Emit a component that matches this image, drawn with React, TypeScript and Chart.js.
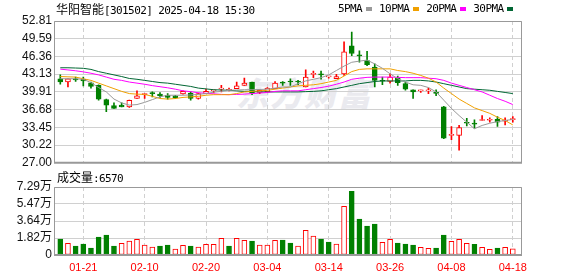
import React, { useEffect, useRef } from 'react';
import { Chart, registerables } from 'chart.js';

Chart.register(...registerables);

const stockName = '华阳智能';
const stockCode = '301502';
const timestamp = '2025-04-18 15:30';
const lastVolume = 6570;

const dates = [
  '01-16','01-17','01-20','01-21','01-22','01-23','01-24','01-27','02-05','02-06',
  '02-07','02-10','02-11','02-12','02-13','02-14','02-17','02-18','02-19','02-20',
  '02-21','02-24','02-25','02-26','02-27','02-28','03-03','03-04','03-05','03-06',
  '03-07','03-10','03-11','03-12','03-13','03-14','03-17','03-18','03-19','03-20',
  '03-21','03-24','03-25','03-26','03-27','03-28','03-31','04-01','04-02','04-03',
  '04-07','04-08','04-09','04-10','04-11','04-14','04-15','04-16','04-17','04-18',
];
const xTickLabels = ['01-21','02-10','02-20','03-04','03-14','03-26','04-08','04-18'];

const open = [
  42.29,41.7,42.29,42.2,41.57,41.1,38.5,37.4,37.5,37.15,
  38.7,39.4,39.7,39.5,39.3,39.2,39.55,39.7,38.7,39.6,
  40.1,40.4,40.2,40.5,41.1,41.7,39.8,39.9,40.5,41.55,
  41.75,41.75,40.8,43.1,43.1,42.65,42.3,43.2,48.3,46.6,
  45.6,44.4,41.95,41.8,42.4,41.4,40.3,40.1,40.1,39.75,
  37.2,32.0,32.0,34.3,34.15,34.7,34.75,34.9,34.6,34.85,
];
const high = [
  43.0,42.3,42.6,42.6,41.7,41.2,38.6,37.9,37.9,38.4,
  40.1,39.6,39.9,39.8,39.6,39.3,40.1,39.9,39.7,40.4,
  40.25,41.1,40.6,41.7,42.4,41.7,40.3,40.7,41.8,41.8,
  42.3,42.0,43.9,43.7,43.7,42.75,43.1,49.0,50.8,47.4,
  47.3,45.0,42.6,43.2,42.8,41.7,40.3,40.25,40.6,40.3,
  37.3,33.6,33.8,35.1,34.8,35.6,35.2,35.4,35.2,35.4,
];
const low = [
  41.3,40.8,41.8,41.0,40.6,38.4,36.3,36.9,37.15,37.1,
  38.7,38.7,39.0,38.9,38.6,38.7,39.5,38.4,38.6,39.6,
  39.7,39.9,40.1,40.5,41.1,39.4,39.6,39.9,40.5,41.1,
  41.1,41.2,40.8,42.5,42.2,42.4,42.3,42.9,46.5,45.3,
  44.7,40.8,41.2,41.5,41.1,40.2,38.7,39.8,39.6,39.2,
  31.4,31.2,29.3,33.7,33.3,34.7,34.4,33.6,33.9,34.4,
];
const close = [
  41.7,42.29,42.1,41.9,40.9,38.6,37.5,36.9,37.15,38.35,
  39.2,39.55,39.6,39.2,38.9,38.85,40.0,38.7,39.6,40.0,
  40.2,40.55,40.35,41.0,41.5,39.7,40.2,40.6,41.5,41.5,
  41.7,41.7,42.6,43.2,43.0,42.7,42.7,47.2,46.9,46.45,
  44.85,42.0,41.85,42.6,41.6,40.4,39.9,40.25,40.2,39.65,
  31.5,32.15,33.4,34.2,34.05,34.8,34.85,34.4,34.75,34.95,
];

const ma5 = [
  42.3,42.3,42.3,42.2,41.6,40.7,39.9,38.6,37.9,37.5,
  37.6,38.0,38.5,39.0,39.3,39.3,39.3,39.35,39.45,39.6,
  39.85,40.0,40.2,40.25,40.3,40.3,40.35,40.4,40.6,40.8,
  40.8,41.4,41.9,42.2,42.5,43.0,43.8,44.6,45.3,45.5,
  45.7,45.0,44.2,43.2,42.3,41.7,41.2,41.1,40.7,39.9,
  38.4,36.9,35.6,34.4,33.2,33.8,34.2,34.5,34.7,34.9,
];
const ma10 = [
  42.7,42.65,42.6,42.3,42.0,41.5,41.0,40.5,40.0,39.6,
  39.5,39.45,39.1,38.7,38.6,38.7,38.9,39.0,39.1,39.3,
  39.4,39.4,39.4,39.6,39.9,40.0,40.1,40.2,40.4,40.6,
  40.8,41.0,41.1,41.2,41.4,41.7,42.0,42.8,43.6,44.0,
  44.1,44.1,44.1,44.1,43.8,43.6,43.3,42.9,42.4,41.7,
  40.6,39.6,38.6,37.8,37.0,36.5,36.0,35.3,34.7,33.9,
];
const ma20 = [
  44.05,43.9,43.75,43.55,43.3,43.0,42.6,42.2,42.0,41.7,
  41.5,41.3,41.05,40.85,40.65,40.4,40.1,39.95,39.75,39.65,
  39.55,39.45,39.4,39.45,39.5,39.6,39.7,39.8,40.0,40.1,
  40.1,40.1,40.3,40.5,40.7,40.95,41.3,41.7,42.2,42.4,
  42.55,42.6,42.6,42.6,42.55,42.5,42.5,42.5,42.4,42.3,
  42.0,41.5,41.1,40.7,40.3,39.9,39.3,38.7,38.2,37.6,
];
const ma30 = [
  44.3,44.3,44.25,44.2,44.0,43.6,43.3,43.0,42.7,42.35,
  42.2,42.0,41.8,41.6,41.5,41.3,41.1,40.9,40.6,40.45,
  40.3,40.25,40.2,40.1,40.0,40.0,39.9,39.9,39.9,39.9,
  39.9,39.9,39.95,40.0,40.1,40.3,40.5,40.8,41.1,41.4,
  41.6,41.8,41.9,41.9,41.9,41.9,42.0,42.0,41.9,41.7,
  41.4,41.1,40.8,40.5,40.4,40.3,40.2,40.0,39.8,39.6,
];
const maNames = ['5PMA', '10PMA', '20PMA', '30PMA'];

// 成交量 (万)
const volume = [
  1.71,1.25,0.96,1.17,0.75,1.92,2.13,0.96,1.25,1.49,
  1.67,1.07,0.85,0.96,1.07,0.64,1.03,0.96,0.85,1.14,
  1.14,1.78,0.96,1.78,1.57,1.49,1.07,1.07,1.57,1.60,
  1.28,0.96,2.64,2.03,1.71,1.39,1.17,5.23,6.83,3.84,
  3.10,3.31,1.36,1.67,1.28,1.17,1.07,0.82,0.71,0.75,
  2.13,1.46,1.67,1.25,1.14,0.82,0.61,0.75,0.82,0.657,
];
// 1 = 红 (涨), 0 = 绿 (跌)
const volumeUp = [
  0,1,0,0,0,0,0,0,1,1,
  1,1,1,0,0,1,1,0,1,1,
  1,1,0,1,1,0,1,1,1,0,
  0,1,1,1,0,0,1,1,0,0,
  0,0,1,1,0,0,0,1,1,0,
  0,1,1,1,0,1,1,0,1,1,
];

const priceTickLabels = ['27.00','30.22','33.45','36.68','39.91','43.13','46.36','49.59','52.81'];
const volumeTickLabels = ['0','1.82万','3.64万','5.47万','7.29万'];

const RED = '#ff0000';
const GREEN = '#008000';
const MA_COLORS = ['#999999', '#f0a000', '#ff00ff', '#006633'];
const GRID = '#d0d0d0';
const MONO = "'DejaVu Sans Mono', monospace";
const CJK = "'Noto Sans CJK SC', sans-serif";

export default function App() {
  const priceRef = useRef<HTMLCanvasElement>(null);
  const volRef = useRef<HTMLCanvasElement>(null);

  useEffect(() => {
    const n = dates.length;
    const idx = Array.from({ length: n }, (_, i) => i);
    const candleUp = idx.map((i) => close[i] >= open[i]);
    const tickIdx = xTickLabels.map((d) => dates.indexOf(d));
    const tickFont = { family: "'Liberation Sans', 'Noto Sans CJK SC', sans-serif", size: 12 };

    const boxPlugin = {
      id: 'box',
      afterDraw(chart: any) {
        const { ctx, chartArea: a } = chart;
        ctx.save();
        ctx.strokeStyle = '#999999';
        ctx.lineWidth = 1;
        ctx.beginPath();
        ctx.moveTo(a.left + 0.5, a.bottom);
        ctx.lineTo(a.left + 0.5, a.top + 0.5);
        ctx.lineTo(a.right - 0.5, a.top + 0.5);
        ctx.lineTo(a.right - 0.5, a.bottom);
        ctx.stroke();
        ctx.lineWidth = 2;
        ctx.beginPath();
        ctx.moveTo(a.left, a.bottom);
        ctx.lineTo(a.right, a.bottom);
        ctx.stroke();
        ctx.restore();
      },
    };

    const xAxis = (labels: boolean) => ({
      type: 'linear',
      min: -0.82,
      max: 60.2,
      offset: false,
      afterBuildTicks: (s: any) => { s.ticks = tickIdx.map((v) => ({ value: v })); },
      afterFit: (s: any) => { s.height = labels ? 21 : 0; },
      ticks: {
        display: labels,
        autoSkip: false,
        maxRotation: 0,
        color: RED,
        padding: 6,
        font: { family: "'Liberation Sans', sans-serif", size: 11 },
        callback: (v: any) => dates[Math.round(v)],
      },
      grid: { color: GRID, drawTicks: false, offset: false },
      border: { display: false, dash: [4, 3] },
    });

    const yAxis = (labels: string[], min: number, max: number) => ({
      type: 'linear',
      position: 'left',
      min,
      max,
      afterBuildTicks: (s: any) => { s.ticks = labels.map((l) => ({ value: parseFloat(l) })); },
      afterFit: (s: any) => { s.width = 54; },
      ticks: { color: '#111', font: tickFont, padding: 2, autoSkip: false, callback: (_v: any, i: number) => labels[i] },
      grid: { color: GRID, drawTicks: false },
      border: { display: false },
    });

    const mas = [ma5, ma10, ma20, ma30];

    const priceChart = new Chart(priceRef.current!, {
      type: 'bar',
      data: {
        datasets: [
          ...mas.map((m, k) => ({
            type: 'line' as const,
            label: maNames[k],
            data: m.map((v, i) => ({ x: i, y: v })),
            borderColor: MA_COLORS[k],
            borderWidth: 1,
            pointRadius: 0,
            tension: 0,
            order: 0,
          })),
          {
            type: 'bar' as const,
            label: 'body',
            data: idx.map((i) => ({ x: i, y: [Math.min(open[i], close[i]), Math.max(open[i], close[i])] })),
            backgroundColor: idx.map((i) => (candleUp[i] ? '#ffffff' : GREEN)),
            borderColor: idx.map((i) => (candleUp[i] ? RED : GREEN)),
            borderWidth: 1,
            borderSkipped: false,
            barThickness: 5,
            minBarLength: 1,
            grouped: false,
            order: 1,
          },
          {
            type: 'bar' as const,
            label: 'wick',
            data: idx.map((i) => ({ x: i, y: [low[i], high[i]] })),
            backgroundColor: idx.map((i) => (candleUp[i] ? RED : GREEN)),
            barThickness: 1,
            grouped: false,
            order: 2,
          },
        ] as any,
      },
      options: {
        responsive: false,
        animation: false,
        events: [],
        layout: { autoPadding: false, padding: { top: 21, bottom: 7, left: 0, right: 56 } },
        plugins: { legend: { display: false }, tooltip: { enabled: false } },
        scales: {
          x: xAxis(false) as any,
          y: yAxis(priceTickLabels, 27.0, 52.81) as any,
        },
      },
      plugins: [boxPlugin],
    });

    const volChart = new Chart(volRef.current!, {
      type: 'bar',
      data: {
        datasets: [
          {
            label: '成交量',
            data: idx.map((i) => ({ x: i, y: volume[i] })) as any,
            backgroundColor: idx.map((i) => (volumeUp[i] ? '#ffffff' : GREEN)),
            borderColor: idx.map((i) => (volumeUp[i] ? RED : GREEN)),
            borderWidth: 1,
            borderSkipped: false,
            barThickness: 5,
            grouped: false,
          },
        ],
      },
      options: {
        responsive: false,
        animation: false,
        events: [],
        layout: { autoPadding: false, padding: { top: 15, bottom: 0, left: 0, right: 56 } },
        plugins: { legend: { display: false }, tooltip: { enabled: false } },
        scales: {
          x: xAxis(true) as any,
          y: yAxis(volumeTickLabels, 0, 7.29) as any,
        },
      },
      plugins: [boxPlugin],
    });

    return () => {
      priceChart.destroy();
      volChart.destroy();
    };
  }, []);

  return (
    <div style={{ position: 'fixed', left: 0, top: 0, width: 578, height: 276, background: '#fff', overflow: 'hidden' }}>
      <div
        style={{
          position: 'absolute', left: 236, top: 72, fontFamily: CJK, fontSize: 33, fontWeight: 900,
          fontStyle: 'italic', color: '#eaeaef', letterSpacing: 1, whiteSpace: 'nowrap', lineHeight: '40px',
        }}
      >
        东方财富
      </div>
      <canvas ref={priceRef} width={578} height={172} style={{ position: 'absolute', left: 0, top: 0 }} />
      <canvas ref={volRef} width={578} height={104} style={{ position: 'absolute', left: 0, top: 172 }} />
      <div style={{ position: 'absolute', left: 56, top: 1, lineHeight: '16px', whiteSpace: 'nowrap', color: '#000' }}>
        <span style={{ fontFamily: CJK, fontSize: 12 }}>{stockName}</span>
        <span style={{ fontFamily: MONO, fontSize: 11, letterSpacing: -0.6 }}>[{stockCode}] {timestamp}</span>
      </div>
      <div style={{ position: 'absolute', left: 338, top: 1, display: 'flex', alignItems: 'center', lineHeight: '16px', whiteSpace: 'nowrap' }}>
        {maNames.map((name, k) => (
          <div key={name} style={{ display: 'flex', alignItems: 'center', marginRight: 7 }}>
            <span style={{ fontFamily: MONO, fontSize: 11, letterSpacing: -0.6, color: '#000' }}>{name}</span>
            <span style={{ display: 'inline-block', width: 6, height: 4, marginLeft: 4, background: MA_COLORS[k] }} />
          </div>
        ))}
      </div>
      <div style={{ position: 'absolute', left: 57, top: 170, lineHeight: '14px', whiteSpace: 'nowrap', color: '#000' }}>
        <span style={{ fontFamily: CJK, fontSize: 12 }}>成交量</span>
        <span style={{ fontFamily: MONO, fontSize: 11, letterSpacing: -0.6 }}>:{lastVolume}</span>
      </div>
    </div>
  );
}
